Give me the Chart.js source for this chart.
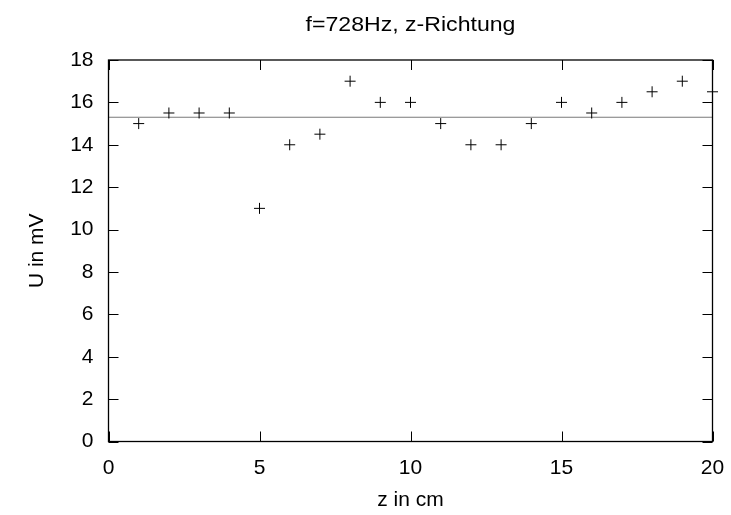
<!DOCTYPE html>
<html>
<head>
<meta charset="utf-8">
<script src="https://cdn.jsdelivr.net/npm/chart.js@4/dist/chart.umd.min.js"></script>
<style>
html,body{margin:0;padding:0;background:#fff;}
#wrap{width:731px;height:515px;}
</style>
</head>
<body>
<div id="wrap"><canvas id="c" width="731" height="515"></canvas></div>
<script>
const zPositions = [1,2,3,4,5,6,7,8,9,10,11,12,13,14,15,16,17,18,19,20];
const voltages = [15,15.5,15.5,15.5,11,14,14.5,17,16,16,15,14,14,15,16,15.5,16,16.5,17,16.5];
const meanVoltage = 15.3;
const xTicks = [0,5,10,15,20];
const yTicks = [0,2,4,6,8,10,12,14,16,18];
const titleText = 'f=728Hz, z-Richtung';
const xLabel = 'z in cm';
const yLabel = 'U in mV';

const FONT = '"Liberation Sans", Arial, sans-serif';
const FS = 21;

const framePlugin = {
  id: 'frame',
  afterDatasetsDraw(chart) {
    const ctx = chart.ctx, a = chart.chartArea;
    const xs = chart.scales.x, ys = chart.scales.y;
    ctx.save();
    ctx.strokeStyle = '#000';
    ctx.lineWidth = 1.3;
    ctx.strokeRect(a.left, a.top, a.right - a.left, a.bottom - a.top);
    ctx.lineWidth = 1;
    const L = 10;
    ctx.beginPath();
    xTicks.forEach(v => {
      const px = Math.round(xs.getPixelForValue(v)) + 0.5;
      ctx.moveTo(px, a.bottom); ctx.lineTo(px, a.bottom - L);
      ctx.moveTo(px, a.top); ctx.lineTo(px, a.top + L);
    });
    yTicks.forEach(v => {
      const py = Math.round(ys.getPixelForValue(v)) + 0.5;
      ctx.moveTo(a.left, py); ctx.lineTo(a.left + L, py);
      ctx.moveTo(a.right, py); ctx.lineTo(a.right - L, py);
    });
    ctx.stroke();
    ctx.fillStyle = '#000';
    ctx.font = FS + 'px ' + FONT;
    ctx.textAlign = 'center';
    ctx.textBaseline = 'alphabetic';
    const cx = (a.left + a.right) / 2;
    ctx.save();
    ctx.translate(cx, 31);
    ctx.scale(1.1, 1);
    ctx.fillText(titleText, 0, 0);
    ctx.restore();
    ctx.fillText(xLabel, cx, 506);
    ctx.translate(43, (a.top + a.bottom) / 2);
    ctx.rotate(-Math.PI / 2);
    ctx.fillText(yLabel, 0, 0);
    ctx.restore();
  }
};

new Chart(document.getElementById('c'), {
  type: 'scatter',
  data: {
    datasets: [
      {
        label: 'U',
        data: zPositions.map((z, i) => ({x: z, y: voltages[i]})),
        pointStyle: 'cross',
        pointRadius: 5.5,
        pointHoverRadius: 5.5,
        borderColor: '#000',
        backgroundColor: '#000',
        borderWidth: 1,
        showLine: false,
        clip: false
      },
      {
        label: 'mean',
        type: 'line',
        data: [{x: xTicks[0], y: meanVoltage}, {x: xTicks[xTicks.length - 1], y: meanVoltage}],
        borderColor: '#7a7a7a',
        borderWidth: 1.2,
        pointRadius: 0,
        fill: false
      }
    ]
  },
  options: {
    responsive: false,
    animation: false,
    events: [],
    layout: {padding: {top: 60, right: 18.5, left: 0, bottom: 0}},
    plugins: {legend: {display: false}, title: {display: false}, tooltip: {enabled: false}},
    scales: {
      x: {
        type: 'linear',
        min: 0, max: 20,
        afterBuildTicks(s) { s.ticks = xTicks.map(v => ({value: v})); },
        afterFit(s) { s.height = 73.5; s.paddingLeft = 0; s.paddingRight = 0; },
        grid: {display: false, drawTicks: false},
        border: {display: false},
        ticks: {color: '#000', font: {size: FS, family: FONT}, padding: 14, maxRotation: 0}
      },
      y: {
        type: 'linear',
        min: 0, max: 18,
        afterBuildTicks(s) { s.ticks = yTicks.map(v => ({value: v})); },
        afterFit(s) { s.width = 108.5; s.paddingTop = 0; s.paddingBottom = 0; },
        grid: {display: false, drawTicks: false},
        border: {display: false},
        ticks: {color: '#000', font: {size: FS, family: FONT}, padding: 15}
      }
    }
  },
  plugins: [framePlugin]
});
</script>
</body>
</html>
